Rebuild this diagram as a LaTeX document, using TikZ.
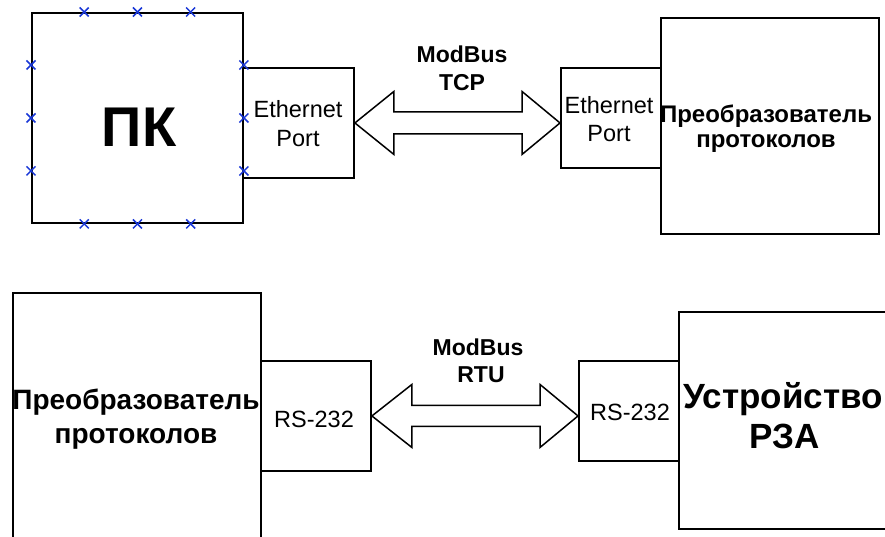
\documentclass[tikz,border=0pt]{standalone}
\usepackage{fontspec}
\setmainfont{Liberation Sans}
\usetikzlibrary{calc}
\definecolor{xblue}{RGB}{25,55,215}
\begin{document}
\begin{tikzpicture}[x=1pt,y=1pt,
  box/.style={draw=black,line width=1.9pt,inner sep=0pt,anchor=north west},
  regtxt/.style={font=\fontsize{23.5}{28}\selectfont,anchor=base,inner sep=0pt},
  boldtxt/.style={font=\bfseries\fontsize{24}{28}\selectfont,anchor=base,inner sep=0pt},
  bigarrow/.style={draw=black,line width=1.5pt,fill=white,line join=miter},
  xmark/.style={draw=xblue,line width=1.5pt}]
\useasboundingbox (0,0) rectangle (885,-536);
\clip (0,0) rectangle (885,-536);
% ---------- top row ----------
\node[box,minimum width=211pt,minimum height=210pt] (pk) at (31,-12) {};
\node[box,minimum width=111pt,minimum height=110pt] (e1) at (242,-67) {};
\node[box,minimum width=100pt,minimum height=100pt] (e2) at (560,-67) {};
\node[box,minimum width=218pt,minimum height=216pt] (c1) at (660,-17) {};
% blue crosses on PK box
\foreach \f in {0.25,0.5,0.75}{
  \foreach \a/\b in {north west/north east,south west/south east,north west/south west,north east/south east}{
    \coordinate (m) at ($(pk.\a)!\f!(pk.\b)$);
    \draw[xmark] ($(m)+(-4.5,-4.5)$) -- ($(m)+(4.5,4.5)$);
    \draw[xmark] ($(m)+(-4.5,4.5)$) -- ($(m)+(4.5,-4.5)$);
  }
}
\node[anchor=base,inner sep=0pt,font=\bfseries\fontsize{56}{62}\selectfont] (pkt) at (139,-146) {ПК};
\node[regtxt] (e1a) at (298,-117) {Ethernet};
\node[regtxt] (e1b) at (298,-146) {Port};
\node[regtxt] (e2a) at (609,-113) {Ethernet};
\node[regtxt] (e2b) at (609,-141) {Port};
\node[boldtxt] (c1a) at (766,-122) {Преобразователь};
\node[boldtxt] (c1b) at (766,-147) {протоколов};
\node[boldtxt,font=\bfseries\fontsize{23}{28}\selectfont] (t1a) at (462,-62) {ModBus};
\node[boldtxt,font=\bfseries\fontsize{23}{28}\selectfont] (t1b) at (462,-90) {TCP};
\draw[bigarrow] (e1.east) -- ++(39,31.5) -- ++(0,-20.5)
  -- ($(e2.west |- e1.east)+(-38,11)$) -- ++(0,20.5)
  -- (e2.west |- e1.east) -- ++(-38,-31.5) -- ++(0,20.5)
  -- ($(e1.east)+(39,-11)$) -- ++(0,-20.5) -- cycle;
% ---------- bottom row ----------
\node[box,minimum width=248pt,minimum height=260pt] (c2) at (12,-292) {};
\node[box,minimum width=110pt,minimum height=110pt] (r1) at (260,-360) {};
\node[box,minimum width=100pt,minimum height=100pt] (r2) at (578,-360) {};
\node[box,minimum width=220pt,minimum height=217pt] (d) at (678,-311) {};
\node[boldtxt,font=\bfseries\fontsize{28}{32}\selectfont] (c2a) at (136,-409) {Преобразователь};
\node[boldtxt,font=\bfseries\fontsize{28}{32}\selectfont] (c2b) at (136,-443) {протоколов};
\node[regtxt] (r1t) at (314,-427) {RS-232};
\node[regtxt] (r2t) at (630,-420) {RS-232};
\node[boldtxt,font=\bfseries\fontsize{35}{40}\selectfont] (da) at (783,-408) {Устройство};
\node[boldtxt,font=\bfseries\fontsize{35}{40}\selectfont] (db) at (785,-448) {РЗА};
\node[boldtxt,font=\bfseries\fontsize{23}{28}\selectfont] (t2a) at (478,-355) {ModBus};
\node[boldtxt,font=\bfseries\fontsize{23}{28}\selectfont] (t2b) at (481,-382) {RTU};
\draw[bigarrow] (r1.east) -- ++(40,31.5) -- ++(0,-21)
  -- ($(r2.west |- r1.east)+(-38,10.5)$) -- ++(0,21)
  -- (r2.west |- r1.east) -- ++(-38,-31.5) -- ++(0,21)
  -- ($(r1.east)+(40,-10.5)$) -- ++(0,-21) -- cycle;
\end{tikzpicture}
\end{document}
